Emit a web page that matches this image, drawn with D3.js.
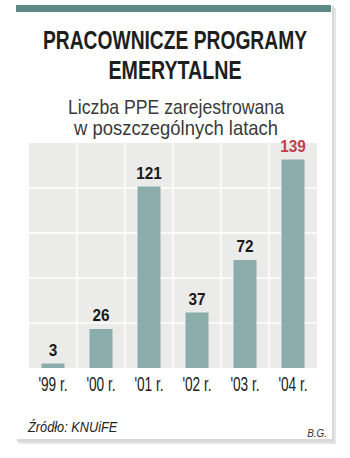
<!DOCTYPE html>
<html><head><meta charset="utf-8">
<script src="https://cdn.jsdelivr.net/npm/d3@7"></script>
<style>
html,body{margin:0;padding:0;background:#fff;}
svg{display:block;}
</style></head>
<body>
<svg id="chart" width="350" height="458"></svg>
<script>
const title = ["PRACOWNICZE PROGRAMY", "EMERYTALNE"];
const subtitle = ["Liczba PPE zarejestrowana", "w poszczególnych latach"];
const categories = ["'99 r.", "'00 r.", "'01 r.", "'02 r.", "'03 r.", "'04 r."];
const values = [3, 26, 121, 37, 72, 139];
const gridTicks = [0, 30, 60, 90, 120, 150];
const source = "Źródło: KNUiFE";
const author = "B.G.";

(function () {
const svg = d3.select("#chart");
const font = "'Liberation Sans', Arial, sans-serif";

// condense text horizontally (the original uses a condensed typeface)
function squeeze(sel, f) {
  sel.each(function () {
    const w = this.getComputedTextLength();
    d3.select(this).attr("textLength", w * f).attr("lengthAdjust", "spacingAndGlyphs");
  });
}

// shadow + card
svg.append("rect").attr("x", 19).attr("y", 8).attr("width", 317).attr("height", 436).attr("fill", "#e6e6e6");
svg.append("rect").attr("x", 17).attr("y", 6).attr("width", 317).attr("height", 436).attr("fill", "#d8d8d8");
svg.append("rect").attr("x", 16).attr("y", 5).attr("width", 316).attr("height", 434).attr("fill", "#ffffff");
svg.append("rect").attr("x", 16).attr("y", 5).attr("width", 315).attr("height", 7).attr("fill", "#5e8a86");

// titles
const titleWidths = [264, 133];
svg.selectAll("text.title").data(title).join("text").attr("class", "title")
  .attr("x", 175).attr("y", (d, i) => 49 + i * 30)
  .attr("text-anchor", "middle").attr("font-family", font).attr("font-weight", "bold")
  .attr("font-size", 25).attr("fill", "#1e1e1e").text(d => d)
  .attr("textLength", (d, i) => titleWidths[i]).attr("lengthAdjust", "spacingAndGlyphs");
const subWidths = [216, 204];
svg.selectAll("text.sub").data(subtitle).join("text").attr("class", "sub")
  .attr("x", 176).attr("y", (d, i) => 114 + i * 21)
  .attr("text-anchor", "middle").attr("font-family", font)
  .attr("font-size", 21).attr("fill", "#3a3a3a").text(d => d)
  .attr("textLength", (d, i) => subWidths[i]).attr("lengthAdjust", "spacingAndGlyphs");

// plot
const pL = 29, pR = 317, pT = 143, pB = 368;
const x = d3.scaleBand().domain(categories).range([pL, pR]).paddingInner(0).paddingOuter(0);
const y = d3.scaleLinear().domain([0, 150]).range([pB, pT]);

svg.append("rect").attr("x", pL).attr("y", pT).attr("width", pR - pL).attr("height", pB - pT).attr("fill", "#ebebea");

// grid
svg.selectAll("line.h").data(gridTicks.slice(1, -1)).join("line").attr("class", "h")
  .attr("x1", pL).attr("x2", pR).attr("y1", d => y(d)).attr("y2", d => y(d))
  .attr("stroke", "#fff").attr("stroke-width", 1.5);
svg.selectAll("line.v").data(categories.slice(1)).join("line").attr("class", "v")
  .attr("x1", d => x(d)).attr("x2", d => x(d)).attr("y1", pT).attr("y2", pB)
  .attr("stroke", "#fff").attr("stroke-width", 1.5);

// bars
const bw = 23;
svg.selectAll("rect.bar").data(values).join("rect").attr("class", "bar")
  .attr("x", (d, i) => x(categories[i]) + x.bandwidth() / 2 - bw / 2)
  .attr("y", d => y(d)).attr("width", bw).attr("height", d => pB - y(d))
  .attr("fill", "#8aadab");

// value labels
const vals = svg.selectAll("text.val").data(values).join("text").attr("class", "val")
  .attr("x", (d, i) => x(categories[i]) + x.bandwidth() / 2)
  .attr("y", d => y(d) - 8)
  .attr("text-anchor", "middle").attr("font-family", font).attr("font-weight", "bold")
  .attr("font-size", 16.5).attr("fill", (d, i) => i === values.length - 1 ? "#c0404e" : "#1a1a1a")
  .text(d => d);
squeeze(vals, 0.93);

// x axis labels
const xAxis = d3.axisBottom(x).tickSize(0).tickPadding(0);
const gx = svg.append("g").attr("transform", `translate(0,${pB + 9})`).call(xAxis);
gx.select(".domain").remove();
gx.selectAll("text").attr("font-family", font).attr("font-size", 19.5).attr("fill", "#222")
  .attr("dy", "0.71em");
squeeze(gx.selectAll("text"), 0.7);

// footer
const src = svg.append("text").attr("x", 28).attr("y", 432).attr("font-family", font).attr("font-style", "italic")
  .attr("font-size", 15).attr("fill", "#222").text(source);
squeeze(src, 0.85);
const au = svg.append("text").attr("x", 327).attr("y", 437).attr("text-anchor", "end").attr("font-family", font)
  .attr("font-style", "italic").attr("font-size", 11).attr("fill", "#333").text(author);
squeeze(au, 0.9);
})();
</script>
</body></html>
